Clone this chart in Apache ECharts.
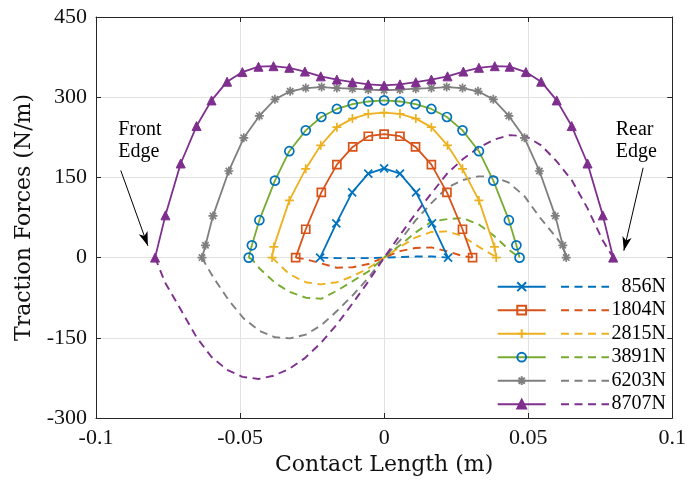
<!DOCTYPE html>
<html>
<head>
<meta charset="utf-8">
<script src="https://cdn.jsdelivr.net/npm/echarts@6/dist/echarts.min.js"></script>
<style>
html,body{margin:0;padding:0;background:#fff;}
#chart{width:689px;height:486px;}
</style>
</head>
<body>
<div id="chart"></div>
<script>
// ---- data ----
const loads = ['856N', '1804N', '2815N', '3891N', '6203N', '8707N'];

const x856 = [-0.0222,-0.0166,-0.0111,-0.0055,0,0.0055,0.0111,0.0166,0.0222];
const n856 = [0,64,122,157,167,157,122,64,0];
const t856 = [0,-1,-1,-1,0,1,2,2,0];

const x1804 = [-0.0307,-0.0272,-0.0218,-0.0164,-0.0109,-0.0055,0,0.0055,0.0109,0.0164,0.0218,0.0272,0.0307];
const n1804 = [0,53,122,174,207,227,231,227,207,174,122,53,0];
const t1804 = [0,-3,-11,-19,-18,-12,0,12,18,19,12,3,0];

const x2815 = [-0.0389,-0.0383,-0.0329,-0.0272,-0.022,-0.0164,-0.011,-0.0055,0,0.0055,0.011,0.0164,0.022,0.0272,0.0329,0.0383,0.0389];
const n2815 = [0,20,107,166,210,244,260,269,271,269,260,244,210,166,107,20,0];
const t2815 = [0,-3,-31,-46,-50,-46,-35,-20,0,20,38,48,49,40,20,3,0];

const x3891 = [-0.047,-0.0459,-0.0433,-0.0379,-0.0329,-0.0272,-0.0218,-0.0164,-0.0109,-0.0055,0,0.0055,0.0109,0.0164,0.0218,0.0272,0.0329,0.0379,0.0433,0.0459,0.047];
const n3891 = [0,23,70,144,199,238,263,278,287,292,294,292,287,278,263,238,199,144,70,23,0];
const t3891 = [0,-3,-20,-47,-64,-75,-77,-62,-44,-26,0,23,47,67,72,74,62,42,15,4,0];

const x6203 = [-0.0632,-0.062,-0.0594,-0.0539,-0.0487,-0.0433,-0.0379,-0.0326,-0.0272,-0.0217,-0.0164,-0.011,-0.0055,0,0.0055,0.011,0.0164,0.0217,0.0272,0.0326,0.0379,0.0433,0.0487,0.0539,0.0594,0.062,0.0632];
const n6203 = [0,23,78,162,224,265,296,311,317,319,317,316,314,313,314,316,317,319,317,311,296,265,224,162,78,23,0];
const t6203 = [0,-12,-36,-80,-114,-137,-149,-151,-144,-126,-100,-71,-38,0,32,70,102,130,145,152,152,140,115,76,40,22,0];

const x8707 = [-0.0795,-0.0759,-0.0706,-0.0651,-0.0599,-0.0545,-0.0492,-0.0436,-0.0384,-0.0329,-0.0275,-0.022,-0.0164,-0.011,-0.0055,0,0.0055,0.011,0.0164,0.022,0.0275,0.0329,0.0384,0.0436,0.0492,0.0545,0.0599,0.0651,0.0706,0.0759,0.0795];
const n8707 = [0,79,176,246,294,329,347,357,358,355,348,339,333,328,324,322,324,328,333,339,348,355,358,357,347,329,294,246,176,79,0];
const t8707 = [0,-48,-97,-149,-186,-210,-223,-227,-221,-208,-188,-160,-125,-86,-45,0,42,83,120,158,185,206,221,229,227,210,180,145,92,32,0];

const xTicks = [-0.1, -0.05, 0, 0.05, 0.1];
const yTicks = [-300, -150, 0, 150, 300, 450];

// annotations (data coordinates)
const frontText = ['Front\nEdge', -0.0923, 259];
const rearText = ['Rear\nEdge', 0.0804, 259];
const frontArrow = [[-0.0914, 163], [-0.0820, 22]];
const rearArrow = [[0.0899, 168], [0.0832, 13]];

// ---- styling ----
const XS = [x856, x1804, x2815, x3891, x6203, x8707];
const NS = [n856, n1804, n2815, n3891, n6203, n8707];
const TS = [t856, t1804, t2815, t3891, t6203, t8707];
const lineColors = ['#0072BD', '#D95319', '#EDB120', '#77AC30', '#7F7F7F', '#7E2F8E'];
const markColors = ['#0072BD', '#D95319', '#EDB120', '#0072BD', '#7F7F7F', '#7E2F8E'];
const symbols = [
  'path://M0,0L10,10M10,0L0,10',
  'rect',
  'path://M5,0L5,10M0,5L10,5',
  'circle',
  'path://M5,0L5,10M0,5L10,5M1.5,1.5L8.5,8.5M8.5,1.5L1.5,8.5',
  'triangle'
];
const symSizes = [8, 8, 9, 9, 9, 9];
const filled = [false, false, false, false, false, true];

const serif = 'Liberation Serif';
const pair = (xs, ys) => xs.map((x, i) => [x, ys[i]]);

const series = [];
// dashed (drawn underneath)
loads.forEach((name, k) => {
  series.push({
    name: name,
    type: 'line',
    data: pair(XS[k], TS[k]),
    symbol: 'none',
    showSymbol: false,
    z: 2,
    lineStyle: { color: lineColors[k], width: 1.9, type: [8, 5.5] },
    itemStyle: { color: lineColors[k] },
    emphasis: { disabled: true },
    silent: true
  });
});
// solid with markers
loads.forEach((name, k) => {
  const s = {
    name: 's' + name,
    type: 'line',
    data: pair(XS[k], NS[k]),
    symbol: symbols[k],
    symbolSize: symSizes[k],
    showAllSymbol: true,
    z: 3,
    lineStyle: { color: lineColors[k], width: 1.8, type: 'solid' },
    itemStyle: filled[k]
      ? { color: markColors[k], borderColor: markColors[k], borderWidth: 1 }
      : { color: 'rgba(255,255,255,0)', borderColor: markColors[k], borderWidth: 1.7 },
    emphasis: { disabled: true },
    silent: true
  };
  if (k === 5) {
    s.markLine = {
      silent: true,
      symbol: ['none', 'arrow'],
      symbolSize: [7, 14],
      label: { show: false },
      lineStyle: { color: '#000', width: 1, type: 'solid' },
      emphasis: { disabled: true },
      data: [
        [{ coord: frontArrow[0] }, { coord: frontArrow[1] }],
        [{ coord: rearArrow[0] }, { coord: rearArrow[1] }]
      ]
    };
  }
  series.push(s);
});

const axisCol = '#262626';
const gridCol = '#e2e2e2';

const legendBase = {
  orient: 'vertical',
  top: 271.7,
  itemWidth: 48,
  itemHeight: 11,
  itemGap: 3.5,
  selectedMode: false,
  padding: 5,
  textStyle: {
    fontFamily: serif, fontSize: 20, color: '#000', lineHeight: 20,
    rich: { a: { width: 52, align: 'right', fontFamily: serif, fontSize: 20, color: '#000', lineHeight: 20 } }
  }
};

const option = {
  animation: false,
  backgroundColor: '#fff',
  grid: { left: 96, right: 14, top: 17, bottom: 68, containLabel: false },
  legend: [
    Object.assign({}, legendBase, {
      left: 491.7,
      data: loads.map(n => 's' + n),
      formatter: () => ' '
    }),
    Object.assign({}, legendBase, {
      left: 555,
      data: loads.map(n => n),
      itemStyle: { opacity: 0 },
      formatter: '{a|{name}}'
    })
  ],
  xAxis: [
    {
      type: 'value', min: xTicks[0], max: xTicks[xTicks.length - 1], interval: 0.05,
      position: 'bottom',
      name: 'Contact Length (m)', nameLocation: 'middle', nameGap: 36,
      nameTextStyle: { fontFamily: 'DejaVu Serif', fontSize: 22, color: '#111' },
      axisLine: { show: true, onZero: false, lineStyle: { color: axisCol, width: 1 } },
      axisTick: { show: true, inside: true, length: 5, lineStyle: { color: axisCol } },
      axisLabel: { fontFamily: serif, fontSize: 22, color: '#111', margin: 9,
        formatter: v => String(Math.round(v * 1000) / 1000) },
      splitLine: { show: true, lineStyle: { color: gridCol, width: 1 } }
    },
    {
      type: 'value', min: xTicks[0], max: xTicks[xTicks.length - 1], interval: 0.05,
      position: 'top',
      axisLine: { show: true, onZero: false, lineStyle: { color: axisCol, width: 1 } },
      axisTick: { show: true, inside: true, length: 5, lineStyle: { color: axisCol } },
      axisLabel: { show: false },
      splitLine: { show: false }
    }
  ],
  yAxis: [
    {
      type: 'value', min: yTicks[0], max: yTicks[yTicks.length - 1], interval: 150,
      position: 'left',
      name: 'Traction Forces (N/m)', nameLocation: 'middle', nameGap: 60,
      nameTextStyle: { fontFamily: 'DejaVu Serif', fontSize: 22, color: '#111' },
      axisLine: { show: true, onZero: false, lineStyle: { color: axisCol, width: 1 } },
      axisTick: { show: true, inside: true, length: 5, lineStyle: { color: axisCol } },
      axisLabel: { fontFamily: serif, fontSize: 22, color: '#111', margin: 9 },
      splitLine: { show: true, lineStyle: { color: gridCol, width: 1 } }
    },
    {
      type: 'value', min: yTicks[0], max: yTicks[yTicks.length - 1], interval: 150,
      position: 'right',
      axisLine: { show: true, onZero: false, lineStyle: { color: axisCol, width: 1 } },
      axisTick: { show: true, inside: true, length: 5, lineStyle: { color: axisCol } },
      axisLabel: { show: false },
      splitLine: { show: false }
    }
  ],
  series: series
};

const chart = echarts.init(document.getElementById('chart'), null, { renderer: 'canvas' });
chart.setOption(option);

const pf = chart.convertToPixel({ gridIndex: 0 }, [frontText[1], frontText[2]]);
const pr = chart.convertToPixel({ gridIndex: 0 }, [rearText[1], rearText[2]]);
const txtStyle = (t) => ({ text: t, fontFamily: serif, fontSize: 20, lineHeight: 22, fill: '#000', align: 'left', verticalAlign: 'top' });
chart.setOption({
  graphic: [
    { type: 'text', x: pf[0], y: pf[1], silent: true, style: txtStyle(frontText[0]) },
    { type: 'text', x: pr[0], y: pr[1], silent: true, style: txtStyle(rearText[0]) }
  ]
});
</script>
</body>
</html>
